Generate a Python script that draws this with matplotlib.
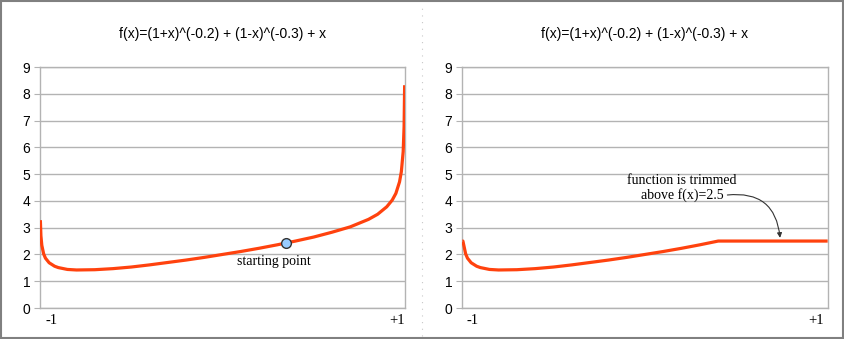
import matplotlib
matplotlib.use('Agg')
import matplotlib.pyplot as plt
from matplotlib.lines import Line2D
from matplotlib.patches import Rectangle

# values
xs = [-0.998, -0.995, -0.99, -0.98, -0.97, -0.95, -0.92, -0.9, -0.85, -0.8,
      -0.7, -0.6, -0.5, -0.4, -0.3, -0.2, -0.1, 0.0, 0.1, 0.2, 0.3, 0.4,
      0.5, 0.6, 0.7, 0.8, 0.85, 0.9, 0.93, 0.95, 0.97, 0.98, 0.99, 0.995, 0.998]
fx = [3.28, 2.70, 2.34, 2.02, 1.86, 1.69, 1.56, 1.51, 1.44, 1.42,
      1.43, 1.47, 1.53, 1.61, 1.70, 1.79, 1.89, 2.00, 2.11, 2.23, 2.36, 2.50,
      2.65, 2.83, 3.03, 3.31, 3.50, 3.78, 4.03, 4.28, 4.71, 5.09, 5.84, 6.77, 8.32]
fx_trim = [2.50, 2.50, 2.34, 2.02, 1.86, 1.69, 1.56, 1.51, 1.44, 1.42,
           1.43, 1.47, 1.53, 1.61, 1.70, 1.79, 1.89, 2.00, 2.11, 2.23, 2.36, 2.50,
           2.50, 2.50, 2.50, 2.50, 2.50, 2.50, 2.50, 2.50, 2.50, 2.50, 2.50, 2.50, 2.50]
start_x = 0.35
start_y = 2.43
yticks = [0, 1, 2, 3, 4, 5, 6, 7, 8, 9]
title = 'f(x)=(1+x)^(-0.2) + (1-x)^(-0.3) + x'

sans = 'Liberation Sans'
serif = 'Liberation Serif'
line_col = '#ff420e'
grid_col = '#b3b3b3'

fig = plt.figure(figsize=(8.45, 3.39), dpi=100)
ax1 = fig.add_axes([40 / 845, 1 - 308 / 339, 365 / 845, 241 / 339])
ax2 = fig.add_axes([462 / 845, 1 - 308 / 339, 366 / 845, 241 / 339])


def style(ax, xl, xr):
    ax.set_xlim(-1, 1)
    ax.set_ylim(0, 9)
    ax.set_yticks(yticks)
    ax.set_yticklabels([str(t) for t in yticks], fontfamily=sans, fontsize=10)
    ax.yaxis.grid(True, color=grid_col, lw=1)
    ax.set_axisbelow(True)
    for s in ax.spines.values():
        s.set_color(grid_col)
        s.set_linewidth(1)
    ax.tick_params(axis='y', length=4, color=grid_col, pad=3)
    ax.set_xticks([xl, xr])
    ax.set_xticklabels(['-1', '+1'], fontfamily=serif, fontsize=10.5)
    ax.tick_params(axis='x', length=0, pad=4)
    ax.set_title(title, fontfamily=sans, fontsize=10, pad=21)


style(ax1, -0.934, 0.956)
style(ax2, -0.945, 0.934)

ax1.plot(xs, fx, color=line_col, lw=2.3, solid_capstyle='butt', zorder=3)
ax1.plot([start_x], [start_y], 'o', ms=7, mfc='#99ccff', mec='#333333', mew=1, zorder=4)
ax1.text(0.282, 1.75, 'starting point', family=serif, fontsize=10,
         ha='center', va='center')

ax2.plot(xs, fx_trim, color=line_col, lw=2.3, solid_capstyle='butt', zorder=3)
ax2.text(0.202, 4.48, 'function is trimmed\nabove f(x)=2.5', family=serif,
         fontsize=10, ha='center', va='center', linespacing=1.1)
ax2.annotate('', xy=(0.738, 2.62), xytext=(0.45, 4.22),
             arrowprops=dict(arrowstyle='-|>', connectionstyle='arc3,rad=-0.5',
                             color='#333333', lw=0.8, shrinkA=0, shrinkB=0,
                             mutation_scale=7))

# separator and outer frame
fig.add_artist(Line2D([422 / 845, 422 / 845], [0.01, 0.99], color='#c8c8c8',
                      lw=0.8, ls=(0, (1, 5))))
fig.add_artist(Rectangle((0.001, 0.002), 0.997, 0.995, fill=False,
                         edgecolor='#808080', lw=1.5, transform=fig.transFigure))

fig.savefig('out.png', dpi=100)
